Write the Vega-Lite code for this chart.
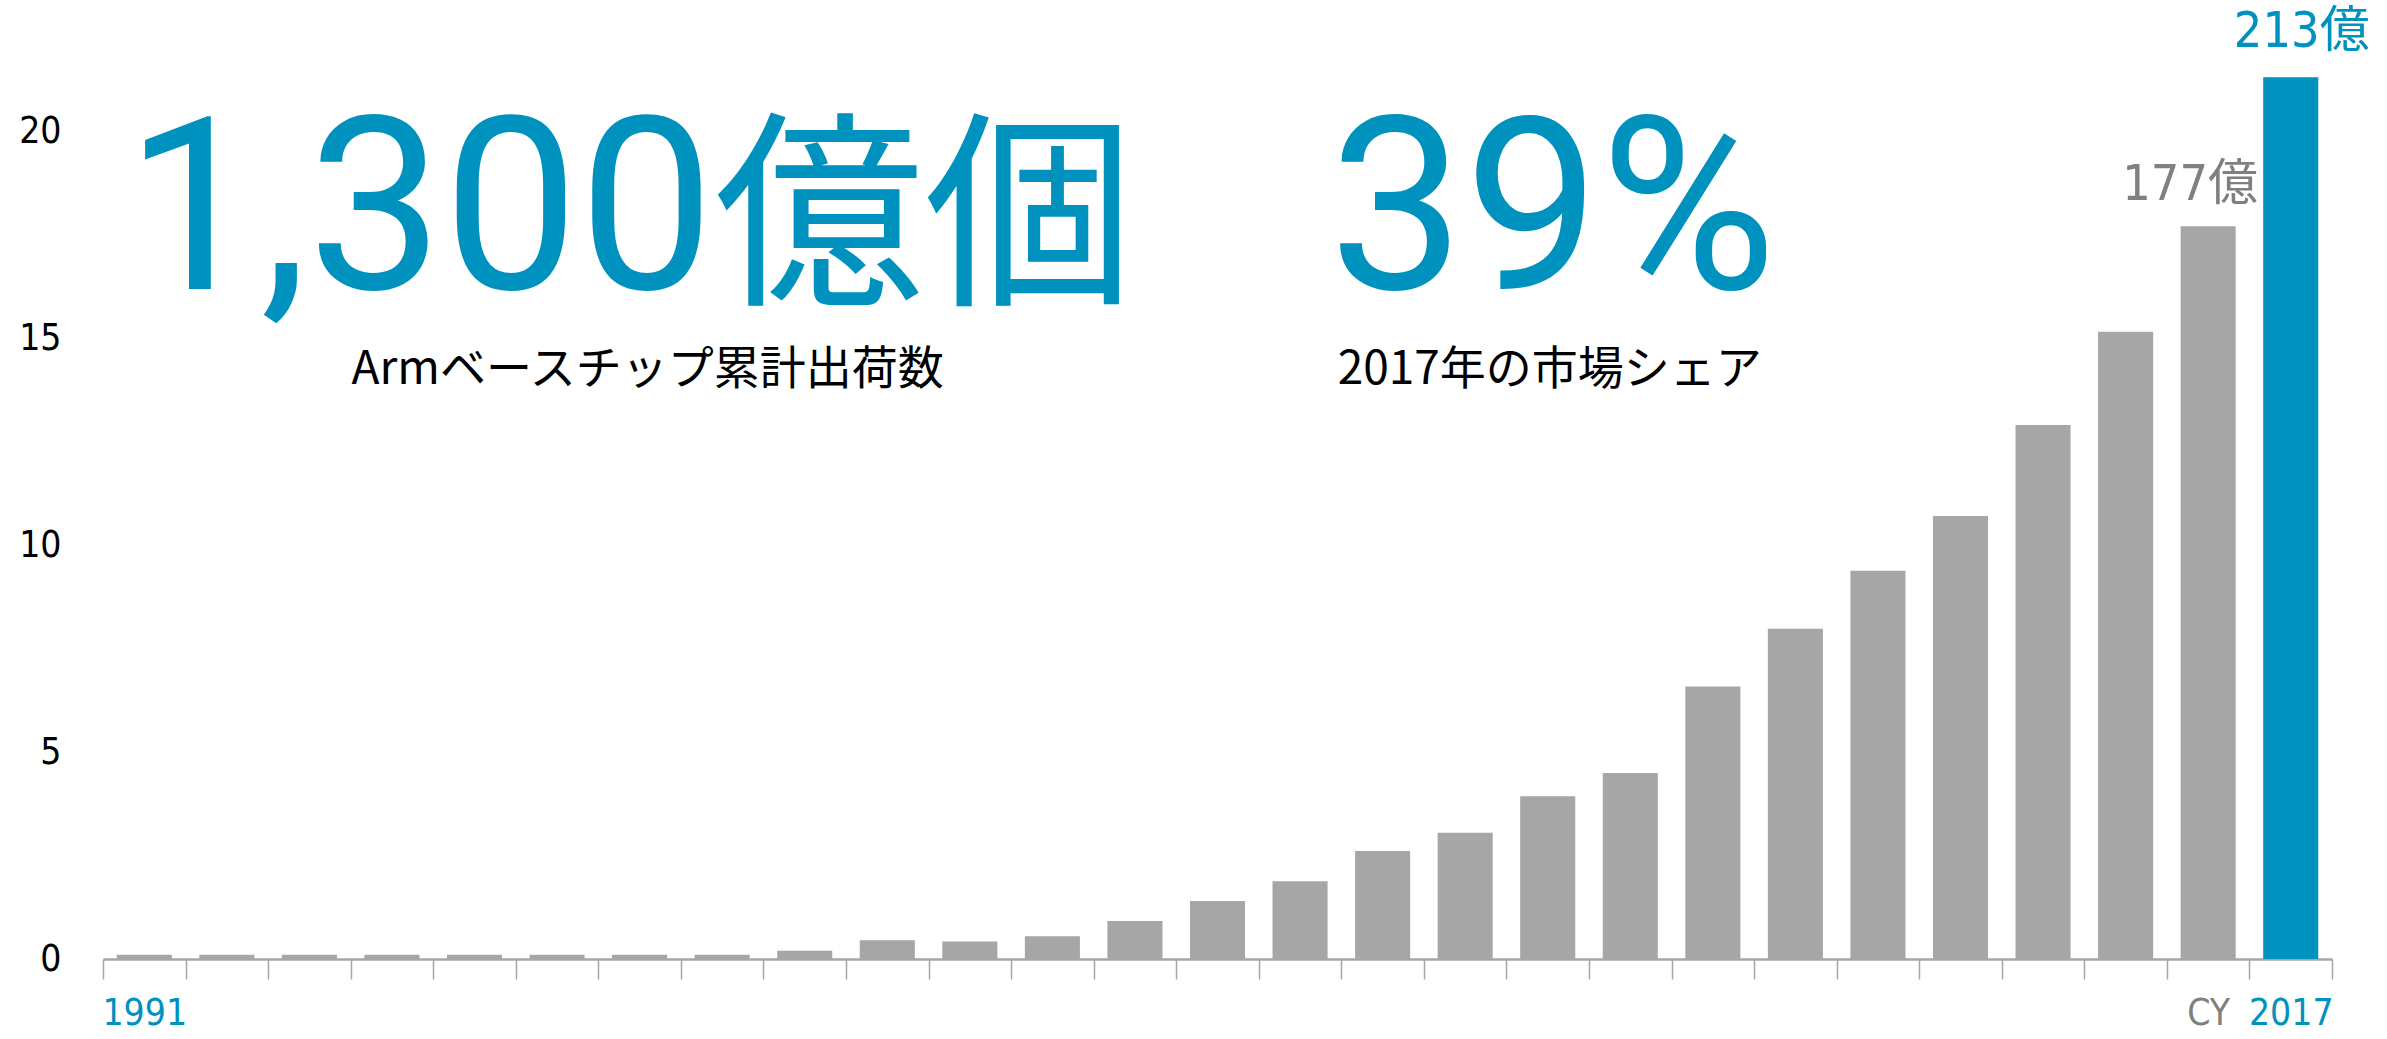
{
  "$schema": "https://vega.github.io/schema/vega-lite/v6.json",
  "autosize": {"type": "none"},
  "padding": {"left": 103, "top": 131, "right": 55, "bottom": 80},
  "width": 2229,
  "height": 828,
  "background": "white",
  "config": {"view": {"stroke": null}},
  "datasets": {
    "bars": [
      {"year": 1991, "value": 0.1},
      {"year": 1992, "value": 0.1},
      {"year": 1993, "value": 0.1},
      {"year": 1994, "value": 0.1},
      {"year": 1995, "value": 0.1},
      {"year": 1996, "value": 0.1},
      {"year": 1997, "value": 0.1},
      {"year": 1998, "value": 0.1},
      {"year": 1999, "value": 0.2},
      {"year": 2000, "value": 0.45},
      {"year": 2001, "value": 0.42},
      {"year": 2002, "value": 0.55},
      {"year": 2003, "value": 0.92},
      {"year": 2004, "value": 1.4},
      {"year": 2005, "value": 1.88},
      {"year": 2006, "value": 2.61},
      {"year": 2007, "value": 3.05},
      {"year": 2008, "value": 3.93},
      {"year": 2009, "value": 4.49},
      {"year": 2010, "value": 6.58},
      {"year": 2011, "value": 7.98},
      {"year": 2012, "value": 9.38},
      {"year": 2013, "value": 10.7},
      {"year": 2014, "value": 12.9},
      {"year": 2015, "value": 15.15},
      {"year": 2016, "value": 17.7},
      {"year": 2017, "value": 21.3}
    ]
  },
  "encoding": {
    "x": {
      "field": "year",
      "type": "ordinal",
      "scale": {"paddingInner": 0, "paddingOuter": 0},
      "axis": {
        "title": null,
        "labelAngle": 0,
        "labelExpr": "datum.value == 1991 ? '1991' : (datum.value == 2016 ? 'CY' : (datum.value == 2017 ? '2017' : ''))",
        "labelColor": {"condition": {"test": "datum.value == 2016", "value": "#7F7F7F"}, "value": "#0092BF"},
        "labelFont": "Liberation Sans Narrow, DejaVu Sans Condensed, Liberation Sans",
        "labelFontSize": 37,
        "labelPadding": 16,
        "labelBaseline": "top",
        "tickBand": "extent",
        "tickColor": "#A6A6A6",
        "tickSize": 20,
        "tickWidth": 1.5,
        "domainColor": "#A6A6A6",
        "domainWidth": 2.5,
        "labelOverlap": false
      }
    },
    "y": {
      "field": "value",
      "type": "quantitative",
      "scale": {"domain": [0, 20], "nice": false},
      "axis": {
        "title": null,
        "values": [0, 5, 10, 15, 20],
        "domain": false,
        "ticks": false,
        "grid": false,
        "labelColor": "#000000",
        "labelFont": "Liberation Sans Narrow, DejaVu Sans Condensed, Liberation Sans",
        "labelFontSize": 37,
        "labelPadding": 42
      }
    }
  },
  "layer": [
    {
      "data": {"name": "bars"},
      "mark": {"type": "bar", "width": {"band": 0.667}, "clip": false},
      "encoding": {
        "color": {"condition": {"test": "datum.year === 2017", "value": "#0092BF"}, "value": "#A6A6A6"}
      }
    },
    {
      "data": {"values": [{"year": 2016, "value": 17.7, "label": "177億"}]},
      "mark": {"type": "text", "baseline": "alphabetic", "align": "center", "dy": -26, "dx": -18, "fontSize": 50, "color": "#808080", "font": "Liberation Sans Narrow, DejaVu Sans Condensed, Noto Sans CJK JP"},
      "encoding": {"text": {"field": "label"}}
    },
    {
      "data": {"values": [{"year": 2017, "value": 21.3, "label": "213億"}]},
      "mark": {"type": "text", "baseline": "alphabetic", "align": "center", "dy": -30, "dx": 11, "fontSize": 50, "color": "#0092BF", "font": "Liberation Sans Narrow, DejaVu Sans Condensed, Noto Sans CJK JP"},
      "encoding": {"text": {"field": "label"}}
    },
    {
      "data": {"values": [{"year": 1998, "value": 16.18, "label": "1,300"}]},
      "mark": {"type": "text", "baseline": "alphabetic", "align": "right", "dx": -8, "fontSize": 241, "color": "#0092BF", "font": "Roboto"},
      "encoding": {"text": {"field": "label"}}
    },
    {
      "data": {"values": [{"year": 1998, "value": 16.18, "label": "億個"}]},
      "mark": {"type": "text", "baseline": "alphabetic", "align": "left", "dx": -8, "fontSize": 210, "color": "#0092BF", "font": "Noto Sans CJK JP"},
      "encoding": {"text": {"field": "label"}}
    },
    {
      "data": {"values": [{"year": 2008, "value": 16.18, "label": "39%"}]},
      "mark": {"type": "text", "baseline": "alphabetic", "align": "center", "dx": 5, "fontSize": 241, "color": "#0092BF", "font": "Roboto"},
      "encoding": {"text": {"field": "label"}}
    },
    {
      "data": {"values": [{"year": 1997, "value": 14.23, "label": "Armベースチップ累計出荷数"}]},
      "mark": {"type": "text", "baseline": "middle", "align": "center", "dx": 8, "fontSize": 46, "color": "#000000", "font": "Noto Sans CJK JP"},
      "encoding": {"text": {"field": "label"}}
    },
    {
      "data": {"values": [{"year": 2008, "value": 14.23, "label": "2017年の市場シェア"}]},
      "mark": {"type": "text", "baseline": "middle", "align": "center", "dx": 2, "fontSize": 46, "color": "#000000", "font": "Noto Sans CJK JP"},
      "encoding": {"text": {"field": "label"}}
    }
  ]
}
